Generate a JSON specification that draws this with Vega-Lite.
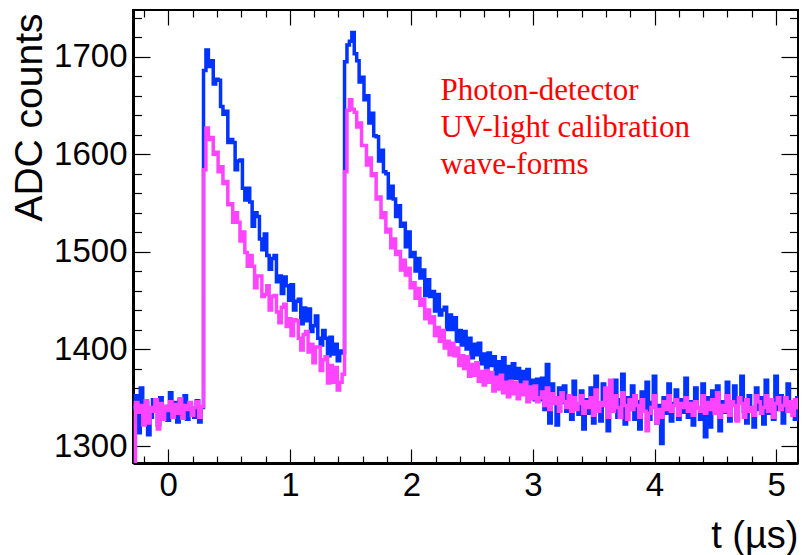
{
"$schema": "https://vega.github.io/schema/vega-lite/v6.json",
"width": 665, "height": 453,
"autosize": {"type": "none"},
"padding": {"left": 133, "top": 10, "right": 4, "bottom": 92},
"background": "white",
"config": {"view": {"stroke": "black", "strokeWidth": 2}},
"datasets": {"wave": [
{"t":-0.29,"b":1340,"m":1250},{"t":-0.27,"b":1352,"m":1345},{"t":-0.25,"b":1314,"m":1335},{"t":-0.23,"b":1360,"m":1342},{"t":-0.21,"b":1326,"m":1322},{"t":-0.19,"b":1345,"m":1347},{"t":-0.17,"b":1312,"m":1324},{"t":-0.15,"b":1330,"m":1340},{"t":-0.13,"b":1348,"m":1336},{"t":-0.11,"b":1336,"m":1348},
{"t":-0.09,"b":1322,"m":1318},{"t":-0.07,"b":1350,"m":1344},{"t":-0.05,"b":1330,"m":1328},{"t":-0.03,"b":1341,"m":1341},{"t":-0.01,"b":1327,"m":1337},{"t":0.01,"b":1355,"m":1346},{"t":0.03,"b":1334,"m":1330},{"t":0.05,"b":1345,"m":1343},{"t":0.07,"b":1325,"m":1334},{"t":0.09,"b":1348,"m":1349},
{"t":0.11,"b":1332,"m":1329},{"t":0.13,"b":1352,"m":1342},{"t":0.15,"b":1328,"m":1338},{"t":0.17,"b":1343,"m":1345},{"t":0.19,"b":1336,"m":1332},{"t":0.21,"b":1330,"m":1340},{"t":0.23,"b":1347,"m":1346},{"t":0.25,"b":1325,"m":1330},{"t":0.27,"b":1340,"m":1341},
{"t":0.29,"b":1686,"m":1584},{"t":0.31,"b":1707,"m":1627},{"t":0.33,"b":1690,"m":1615},{"t":0.35,"b":1696,"m":1617},{"t":0.37,"b":1672,"m":1600},{"t":0.39,"b":1677,"m":1602},{"t":0.41,"b":1676,"m":1582},{"t":0.43,"b":1649,"m":1587},{"t":0.45,"b":1641,"m":1570},{"t":0.47,"b":1644,"m":1572},
{"t":0.49,"b":1612,"m":1548},{"t":0.51,"b":1615,"m":1549},{"t":0.53,"b":1612,"m":1530},{"t":0.55,"b":1584,"m":1540},{"t":0.57,"b":1593,"m":1530},{"t":0.59,"b":1594,"m":1511},{"t":0.61,"b":1565,"m":1520},{"t":0.63,"b":1553,"m":1499},{"t":0.65,"b":1565,"m":1485},{"t":0.67,"b":1551,"m":1496},
{"t":0.69,"b":1526,"m":1485},{"t":0.71,"b":1540,"m":1463},{"t":0.73,"b":1536,"m":1475},{"t":0.75,"b":1513,"m":1475},{"t":0.77,"b":1502,"m":1454},{"t":0.79,"b":1518,"m":1456},{"t":0.81,"b":1496,"m":1465},{"t":0.83,"b":1482,"m":1440},{"t":0.85,"b":1493,"m":1454},{"t":0.87,"b":1496,"m":1455},
{"t":0.89,"b":1469,"m":1438},{"t":0.91,"b":1475,"m":1427},{"t":0.93,"b":1457,"m":1443},{"t":0.95,"b":1474,"m":1446},{"t":0.97,"b":1465,"m":1423},{"t":0.99,"b":1450,"m":1431},{"t":1.01,"b":1466,"m":1414},{"t":1.03,"b":1440,"m":1430},{"t":1.05,"b":1449,"m":1429},{"t":1.07,"b":1451,"m":1411},
{"t":1.09,"b":1426,"m":1399},{"t":1.11,"b":1442,"m":1415},{"t":1.13,"b":1429,"m":1418},{"t":1.15,"b":1441,"m":1397},{"t":1.17,"b":1418,"m":1405},{"t":1.19,"b":1424,"m":1386},{"t":1.21,"b":1434,"m":1402},{"t":1.23,"b":1411,"m":1402},{"t":1.25,"b":1404,"m":1378},{"t":1.27,"b":1419,"m":1389},
{"t":1.29,"b":1411,"m":1392},{"t":1.31,"b":1393,"m":1365},{"t":1.33,"b":1412,"m":1383},{"t":1.35,"b":1395,"m":1366},{"t":1.37,"b":1405,"m":1381},{"t":1.39,"b":1388,"m":1358},{"t":1.41,"b":1398,"m":1366},{"t":1.43,"b":1396,"m":1374},
{"t":1.45,"b":1695,"m":1582},{"t":1.47,"b":1712,"m":1645},{"t":1.49,"b":1716,"m":1656},{"t":1.51,"b":1725,"m":1646},{"t":1.53,"b":1703,"m":1643},{"t":1.55,"b":1696,"m":1628},{"t":1.57,"b":1674,"m":1632},{"t":1.59,"b":1679,"m":1609},{"t":1.61,"b":1656,"m":1609},{"t":1.63,"b":1660,"m":1589},
{"t":1.65,"b":1632,"m":1596},{"t":1.67,"b":1642,"m":1578},{"t":1.69,"b":1619,"m":1580},{"t":1.71,"b":1618,"m":1554},{"t":1.73,"b":1593,"m":1556},{"t":1.75,"b":1604,"m":1535},{"t":1.77,"b":1582,"m":1540},{"t":1.79,"b":1580,"m":1520},{"t":1.81,"b":1555,"m":1523},{"t":1.83,"b":1567,"m":1504},
{"t":1.85,"b":1554,"m":1513},{"t":1.87,"b":1536,"m":1497},{"t":1.89,"b":1547,"m":1500},{"t":1.91,"b":1526,"m":1481},{"t":1.93,"b":1529,"m":1491},{"t":1.95,"b":1505,"m":1476},{"t":1.97,"b":1520,"m":1483},{"t":1.99,"b":1495,"m":1463},{"t":2.01,"b":1499,"m":1468},{"t":2.03,"b":1480,"m":1452},
{"t":2.05,"b":1493,"m":1462},{"t":2.07,"b":1473,"m":1445},{"t":2.09,"b":1481,"m":1451},{"t":2.11,"b":1455,"m":1431},{"t":2.13,"b":1471,"m":1440},{"t":2.15,"b":1454,"m":1427},{"t":2.17,"b":1459,"m":1433},{"t":2.19,"b":1439,"m":1414},{"t":2.21,"b":1456,"m":1422},{"t":2.23,"b":1435,"m":1408},
{"t":2.25,"b":1440,"m":1419},{"t":2.27,"b":1443,"m":1401},{"t":2.29,"b":1420,"m":1408},{"t":2.31,"b":1435,"m":1394},{"t":2.33,"b":1420,"m":1406},{"t":2.35,"b":1432,"m":1393},{"t":2.37,"b":1408,"m":1401},{"t":2.39,"b":1419,"m":1383},{"t":2.41,"b":1404,"m":1393},{"t":2.43,"b":1418,"m":1380},
{"t":2.45,"b":1400,"m":1392},{"t":2.47,"b":1411,"m":1372},{"t":2.49,"b":1391,"m":1384},{"t":2.51,"b":1405,"m":1373},{"t":2.53,"b":1394,"m":1386},{"t":2.55,"b":1406,"m":1367},{"t":2.57,"b":1385,"m":1377},{"t":2.59,"b":1395,"m":1363},{"t":2.61,"b":1377,"m":1378},{"t":2.63,"b":1396,"m":1366},
{"t":2.65,"b":1383,"m":1376},{"t":2.67,"b":1392,"m":1357},{"t":2.69,"b":1372,"m":1371},{"t":2.71,"b":1387,"m":1359},{"t":2.73,"b":1373,"m":1373},{"t":2.75,"b":1391,"m":1355},{"t":2.77,"b":1369,"m":1366},{"t":2.79,"b":1382,"m":1351},{"t":2.81,"b":1363,"m":1367},{"t":2.83,"b":1385,"m":1354},
{"t":2.85,"b":1370,"m":1366},{"t":2.87,"b":1380,"m":1349},{"t":2.89,"b":1359,"m":1363},{"t":2.91,"b":1377,"m":1353},{"t":2.93,"b":1363,"m":1366},{"t":2.95,"b":1379,"m":1346},{"t":2.97,"b":1357,"m":1361},{"t":2.99,"b":1368,"m":1349},{"t":3.01,"b":1348,"m":1362},{"t":3.03,"b":1369,"m":1346},
{"t":3.05,"b":1348,"m":1350},{"t":3.07,"b":1370,"m":1356},{"t":3.09,"b":1338,"m":1342},{"t":3.11,"b":1384,"m":1360},{"t":3.13,"b":1324,"m":1338},{"t":3.15,"b":1364,"m":1354},{"t":3.17,"b":1350,"m":1344},{"t":3.19,"b":1322,"m":1350},{"t":3.21,"b":1360,"m":1336},{"t":3.23,"b":1345,"m":1355},
{"t":3.25,"b":1362,"m":1346},{"t":3.27,"b":1336,"m":1340},{"t":3.29,"b":1352,"m":1352},{"t":3.31,"b":1328,"m":1336},{"t":3.33,"b":1367,"m":1350},{"t":3.35,"b":1342,"m":1338},{"t":3.37,"b":1333,"m":1344},{"t":3.39,"b":1357,"m":1352},{"t":3.41,"b":1318,"m":1334},{"t":3.43,"b":1348,"m":1346},
{"t":3.45,"b":1334,"m":1340},{"t":3.47,"b":1360,"m":1350},{"t":3.49,"b":1324,"m":1332},{"t":3.51,"b":1372,"m":1358},{"t":3.53,"b":1340,"m":1336},{"t":3.55,"b":1326,"m":1345},{"t":3.57,"b":1364,"m":1342},{"t":3.59,"b":1344,"m":1360},{"t":3.61,"b":1316,"m":1330},{"t":3.63,"b":1352,"m":1368},
{"t":3.65,"b":1340,"m":1336},{"t":3.67,"b":1368,"m":1352},{"t":3.69,"b":1330,"m":1340},{"t":3.71,"b":1348,"m":1330},{"t":3.73,"b":1374,"m":1355},{"t":3.75,"b":1323,"m":1342},{"t":3.77,"b":1350,"m":1328},{"t":3.79,"b":1338,"m":1348},{"t":3.81,"b":1362,"m":1338},{"t":3.83,"b":1328,"m":1352},
{"t":3.85,"b":1346,"m":1342},{"t":3.87,"b":1318,"m":1330},{"t":3.89,"b":1356,"m":1348},{"t":3.91,"b":1338,"m":1336},{"t":3.93,"b":1366,"m":1316},{"t":3.95,"b":1328,"m":1334},{"t":3.97,"b":1345,"m":1340},{"t":3.99,"b":1372,"m":1352},{"t":4.01,"b":1324,"m":1324},{"t":4.03,"b":1342,"m":1338},
{"t":4.05,"b":1303,"m":1330},{"t":4.07,"b":1350,"m":1346},{"t":4.09,"b":1334,"m":1338},{"t":4.11,"b":1364,"m":1352},{"t":4.13,"b":1326,"m":1336},{"t":4.15,"b":1344,"m":1342},{"t":4.17,"b":1358,"m":1348},{"t":4.19,"b":1328,"m":1332},{"t":4.21,"b":1348,"m":1344},{"t":4.23,"b":1335,"m":1340},
{"t":4.25,"b":1370,"m":1350},{"t":4.27,"b":1330,"m":1336},{"t":4.29,"b":1346,"m":1344},{"t":4.31,"b":1322,"m":1332},{"t":4.33,"b":1360,"m":1346},{"t":4.35,"b":1340,"m":1340},{"t":4.37,"b":1328,"m":1336},{"t":4.39,"b":1364,"m":1352},{"t":4.41,"b":1310,"m":1334},{"t":4.43,"b":1350,"m":1345},
{"t":4.45,"b":1320,"m":1338},{"t":4.47,"b":1357,"m":1348},{"t":4.49,"b":1340,"m":1334},{"t":4.51,"b":1362,"m":1355},{"t":4.53,"b":1316,"m":1330},{"t":4.55,"b":1346,"m":1342},{"t":4.57,"b":1335,"m":1336},{"t":4.59,"b":1366,"m":1352},{"t":4.61,"b":1326,"m":1332},{"t":4.63,"b":1344,"m":1346},
{"t":4.65,"b":1362,"m":1342},{"t":4.67,"b":1328,"m":1326},{"t":4.69,"b":1348,"m":1350},{"t":4.71,"b":1372,"m":1344},{"t":4.73,"b":1336,"m":1330},{"t":4.75,"b":1324,"m":1348},{"t":4.77,"b":1352,"m":1336},{"t":4.79,"b":1340,"m":1340},{"t":4.81,"b":1320,"m":1332},{"t":4.83,"b":1360,"m":1352},
{"t":4.85,"b":1338,"m":1346},{"t":4.87,"b":1350,"m":1334},{"t":4.89,"b":1323,"m":1340},{"t":4.91,"b":1368,"m":1352},{"t":4.93,"b":1334,"m":1336},{"t":4.95,"b":1345,"m":1348},{"t":4.97,"b":1328,"m":1330},{"t":4.99,"b":1372,"m":1344},{"t":5.01,"b":1338,"m":1350},{"t":5.03,"b":1352,"m":1338},
{"t":5.05,"b":1324,"m":1342},{"t":5.07,"b":1348,"m":1350},{"t":5.09,"b":1364,"m":1336},{"t":5.11,"b":1336,"m":1346},{"t":5.13,"b":1344,"m":1332},{"t":5.15,"b":1328,"m":1348},{"t":5.17,"b":1350,"m":1340},{"t":5.19,"b":1340,"m":1338}
]},
"layer": [
{
"data": {"name": "wave"},
"transform": [{"fold": ["b", "m"], "as": ["series", "adc"]}],
"mark": {"type": "line", "interpolate": "step-after", "strokeWidth": 3.5, "clip": true},
"encoding": {
"x": {"field": "t", "type": "quantitative",
"scale": {"domain": [-0.29, 5.18], "nice": false, "zero": false},
"axis": {"orient": "bottom",
"values": [-0.2,0,0.2,0.4,0.6,0.8,1,1.2,1.4,1.6,1.8,2,2.2,2.4,2.6,2.8,3,3.2,3.4,3.6,3.8,4,4.2,4.4,4.6,4.8,5],
"tickSize": {"condition": {"test": "abs(datum.value - round(datum.value)) < 0.001", "value": -14}, "value": -7},
"labelExpr": "abs(datum.value - round(datum.value)) < 0.001 ? format(datum.value, 'd') : ''",
"labelFont": "Liberation Sans", "labelFontSize": 33, "labelColor": "black",
"labelPadding": 20, "labelFlush": false, "labelOverlap": false, "labelBaseline": "top",
"domainColor": "black", "domainWidth": 3, "tickColor": "black", "tickWidth": 1.2, "grid": false,
"title": "t (µs)", "titleFont": "Liberation Sans", "titleFontSize": 38, "titleFontWeight": "normal", "titleColor": "black",
"titleAnchor": "end", "titleAlign": "right", "titleBaseline": "alphabetic", "titleX": 665, "titleY": 84}},
"y": {"field": "adc", "type": "quantitative",
"scale": {"domain": [1283, 1748], "nice": false, "zero": false},
"axis": {"orient": "left",
"values": [1300,1320,1340,1360,1380,1400,1420,1440,1460,1480,1500,1520,1540,1560,1580,1600,1620,1640,1660,1680,1700,1720,1740],
"tickSize": {"condition": {"test": "datum.value % 100 === 0", "value": -17}, "value": -8.5},
"labelExpr": "datum.value % 100 === 0 ? format(datum.value, 'd') : ''",
"labelFont": "Liberation Sans", "labelFontSize": 33, "labelColor": "black",
"labelPadding": 23, "labelFlush": false, "labelOverlap": false,
"domainColor": "black", "domainWidth": 3, "tickColor": "black", "tickWidth": 1.2, "grid": false,
"title": "ADC counts", "titleFont": "Liberation Sans", "titleFontSize": 39, "titleFontWeight": "normal", "titleColor": "black",
"titleAngle": 270, "titleAnchor": "end", "titleAlign": "right", "titleBaseline": "alphabetic", "titleX": -92, "titleY": 3}},
"color": {"field": "series", "type": "nominal", "scale": {"domain": ["b", "m"], "range": ["#0033ff", "#ff44ff"]}, "legend": null}
}
},
{
"data": {"values": [{}]},
"mark": {"type": "text", "text": ["Photon-detector", "UV-light calibration", "wave-forms"], "font": "Liberation Serif", "fontSize": 31, "color": "#ff0000", "align": "left", "baseline": "alphabetic", "lineHeight": 37},
"encoding": {
"x": {"datum": 2.24, "type": "quantitative",
"scale": {"domain": [-0.29, 5.18], "nice": false, "zero": false},
"axis": {"orient": "top",
"values": [-0.2,0,0.2,0.4,0.6,0.8,1,1.2,1.4,1.6,1.8,2,2.2,2.4,2.6,2.8,3,3.2,3.4,3.6,3.8,4,4.2,4.4,4.6,4.8,5],
"tickSize": {"condition": {"test": "abs(datum.value - round(datum.value)) < 0.001", "value": -15}, "value": -7},
"labels": false, "domain": false, "tickColor": "black", "tickWidth": 1.2, "grid": false, "title": null}},
"y": {"datum": 1656, "type": "quantitative",
"scale": {"domain": [1283, 1748], "nice": false, "zero": false},
"axis": {"orient": "right",
"values": [1300,1320,1340,1360,1380,1400,1420,1440,1460,1480,1500,1520,1540,1560,1580,1600,1620,1640,1660,1680,1700,1720,1740],
"tickSize": {"condition": {"test": "datum.value % 100 === 0", "value": -17}, "value": -8.5},
"labels": false, "domain": false, "tickColor": "black", "tickWidth": 1.2, "grid": false, "title": null}}
}
}
],
"resolve": {"axis": {"x": "independent", "y": "independent"}}
}
